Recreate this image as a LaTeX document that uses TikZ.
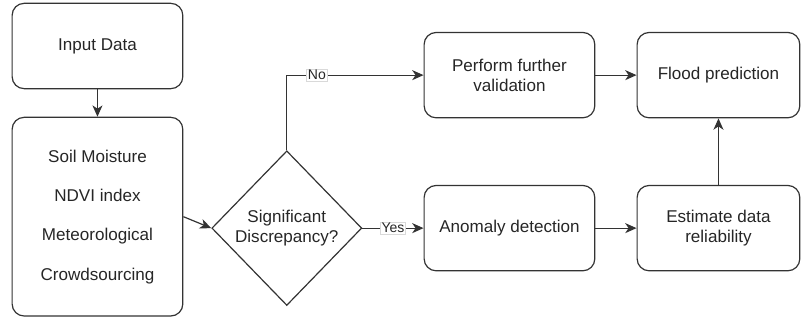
\documentclass[tikz,border=0pt]{standalone}
\usepackage{fontspec}
\setmainfont{Liberation Sans}
\usetikzlibrary{positioning,arrows.meta,shapes.geometric}

\begin{document}
\begin{tikzpicture}[>={Stealth[length=8.5pt,width=7.5pt,inset=2.5pt]},on grid,line width=0.9pt,
  every node/.style={text=black!85},
  blk/.style={draw=black!80,rounded corners=9pt,minimum width=128pt,minimum height=64pt,
    align=center,font=\fontsize{12.8}{15}\selectfont},
  decision/.style={draw=black!80,diamond,minimum width=112.5pt,minimum height=116pt,
    inner sep=0pt,align=center,font=\fontsize{12.8}{15}\selectfont},
  lbl/.style={fill=white,draw=black!15,line width=0.4pt,inner sep=1pt,
    font=\fontsize{10.5}{12}\selectfont}]
  \useasboundingbox (0,0) rectangle (600.75pt,-243pt);
  \node[blk] (inp) at (73.1pt,-34.5pt) {Input Data};
  \node[blk,minimum height=149pt,font=\fontsize{12.8}{29.5}\selectfont] (src) [below=128pt of inp]
    {Soil Moisture\\NDVI index\\Meteorological\\Crowdsourcing};
  \node[decision] (dec) [below right=8.6pt and 142pt of src] {Significant\\Discrepancy?};
  \node[blk] (anom) [right=167pt of dec] {Anomaly detection};
  \node[blk] (val) [above=114.75pt of anom] {Perform further\\validation};
  \node[blk,minimum width=122pt] (est) [right=156.75pt of anom] {Estimate data\\reliability};
  \node[blk,minimum width=122pt] (flood) [above=114.75pt of est] {Flood prediction};
  \path[->,color=black!80]
    (inp) edge (src)
    (src.east) edge (dec.west)
    (dec) edge node[lbl]{Yes} (anom)
    (anom) edge (est)
    (val) edge (flood)
    (est) edge (flood);
  \draw[->,color=black!80] (dec.north) |- node[lbl,pos=0.61]{No} (val.west);
\end{tikzpicture}
\end{document}
